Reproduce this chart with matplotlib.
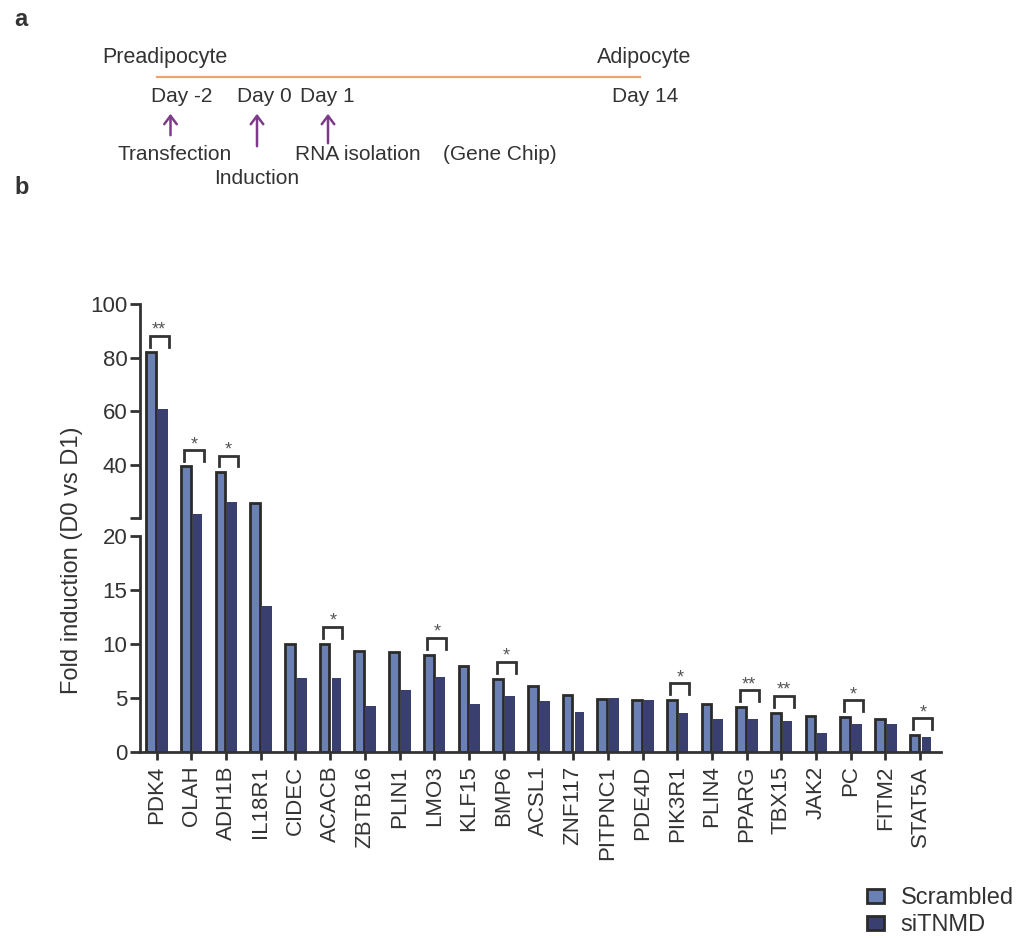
import numpy as np
import matplotlib
matplotlib.use('Agg')
import matplotlib.pyplot as plt
from matplotlib.patches import Patch, FancyArrowPatch
from matplotlib.lines import Line2D

plt.rcParams['font.family'] = ['Liberation Sans', 'DejaVu Sans']
plt.rcParams['text.color'] = '#333333'
plt.rcParams['axes.labelcolor'] = '#333333'
plt.rcParams['xtick.color'] = '#333333'
plt.rcParams['ytick.color'] = '#333333'

# data
genes = ['PDK4', 'OLAH', 'ADH1B', 'IL18R1', 'CIDEC', 'ACACB', 'ZBTB16', 'PLIN1',
         'LMO3', 'KLF15', 'BMP6', 'ACSL1', 'ZNF117', 'PITPNC1', 'PDE4D', 'PIK3R1',
         'PLIN4', 'PPARG', 'TBX15', 'JAK2', 'PC', 'FITM2', 'STAT5A']
scrambled = [82.2, 39.4, 37.4, 25.8, 10.0, 10.0, 9.35, 9.25, 9.0, 7.9, 6.75, 6.1,
             5.25, 4.9, 4.8, 4.8, 4.4, 4.15, 3.6, 3.3, 3.2, 3.05, 1.55]
sitnmd = [60.9, 21.7, 26.2, 13.5, 6.8, 6.8, 4.2, 5.7, 6.95, 4.45, 5.2, 4.7,
          3.7, 4.95, 4.8, 3.6, 3.0, 3.0, 2.85, 1.75, 2.6, 2.6, 1.4]
sig_genes = ['PDK4', 'OLAH', 'ADH1B', 'ACACB', 'LMO3', 'BMP6', 'PIK3R1', 'PPARG',
             'TBX15', 'PC', 'STAT5A']
sig_marks = ['**', '*', '*', '*', '*', '*', '*', '**', '**', '*', '*']

timeline_days = ['Day -2', 'Day 0', 'Day 1', 'Day 14']

W, H = 1018, 938
C_SCR = '#6b80b4'
C_SI = '#393f6e'
C_EDGE = '#2b2b2b'
C_AX = '#333333'


def fx(px):
    return px / W


def fy(py):
    return 1 - py / H


fig = plt.figure(figsize=(W / 100, H / 100), dpi=100)

# ---- panel a: timeline ----
fig.text(fx(14), fy(19), 'a', fontsize=17, fontweight='bold', va='center', ha='left')
fig.text(fx(14), fy(188), 'b', fontsize=17, fontweight='bold', va='center', ha='left')

fig.add_artist(Line2D([fx(157), fx(640)], [fy(77.5), fy(77.5)], color='#f2a272', lw=1.6))
fig.text(fx(102), fy(58), 'Preadipocyte', fontsize=15.5, va='center', ha='left')
fig.text(fx(691), fy(58), 'Adipocyte', fontsize=15.5, va='center', ha='right')

day_x = [151, 237, 300, 612]
for d, xp in zip(timeline_days, day_x):
    fig.text(fx(xp), fy(97), d, fontsize=15, va='center', ha='left')

for xp, tail in [(170.5, 138), (257, 149), (328, 146)]:
    fig.add_artist(FancyArrowPatch((fx(xp), fy(tail)), (fx(xp), fy(111)),
                                   transform=fig.transFigure, arrowstyle='->,head_length=4,head_width=3',
                                   color='#7d3a88', lw=1.8, mutation_scale=1.5))

fig.text(fx(117), fy(155), 'Transfection', fontsize=15, va='center', ha='left')
fig.text(fx(214), fy(179), 'Induction', fontsize=15, va='center', ha='left')
fig.text(fx(295), fy(155), 'RNA isolation', fontsize=15, va='center', ha='left')
fig.text(fx(443), fy(155), '(Gene Chip)', fontsize=15, va='center', ha='left')

# ---- panel b: broken bar chart ----
left, right = fx(140), fx(941)
ax_top = fig.add_axes([left, fy(518.3), right - left, fy(304.3) - fy(518.3)])
ax_bot = fig.add_axes([left, fy(751.7), right - left, fy(536) - fy(751.7)])

x = np.arange(len(genes))
scr = np.array(scrambled)
si = np.array(sitnmd)
bw = 0.28
o1, o2 = -0.16, 0.18

big_s = scr > 20
big_i = si > 20
ax_top.bar(x[big_s] + o1, scr[big_s], bw, color=C_SCR, edgecolor=C_EDGE, lw=2, clip_on=False)
ax_top.bar(x[big_i] + o2, si[big_i], bw, color=C_SI, lw=0, clip_on=False)
ax_bot.bar(x + o1, scr, bw, color=C_SCR, edgecolor=C_EDGE, lw=2)
ax_bot.bar(x + o2, si, bw, color=C_SI, lw=0)

xlim = (-0.48, 22.6)
ax_top.set_xlim(*xlim)
ax_bot.set_xlim(*xlim)
ax_top.set_ylim(20, 100)
ax_bot.set_ylim(0, 20)
ax_top.patch.set_visible(False)

for ax in (ax_top, ax_bot):
    for s in ['top', 'right']:
        ax.spines[s].set_visible(False)
    ax.spines['left'].set_linewidth(2)
    ax.spines['left'].set_color(C_AX)
    ax.tick_params(axis='y', length=7, width=2, labelsize=16, pad=2)
ax_top.spines['bottom'].set_visible(False)
ax_bot.spines['bottom'].set_linewidth(2)
ax_bot.spines['bottom'].set_color(C_AX)

ax_top.set_yticks([20, 40, 60, 80, 100])
ax_top.set_yticklabels(['', '40', '60', '80', '100'])
ax_top.set_xticks([])
ax_bot.set_yticks([0, 5, 10, 15, 20])
ax_bot.set_xticks(x)
ax_bot.set_xticklabels(genes, rotation=90, fontsize=16)
ax_bot.tick_params(axis='x', length=6, width=2, pad=4)

fig.text(fx(72), fy(560), 'Fold induction (D0 vs D1)', fontsize=17, rotation=90,
         va='center', ha='center')

# significance brackets
for g, m in zip(sig_genes, sig_marks):
    i = genes.index(g)
    top = max(scr[i], si[i])
    if top > 20:
        ax, gap, leg = ax_top, 6.0, 4.0
    else:
        ax, gap, leg = ax_bot, 1.55, 1.0
    yb = top + gap
    x0, x1 = i - 0.2, i + 0.35
    ax.plot([x0, x0, x1, x1], [yb - leg, yb, yb, yb - leg], color=C_AX, lw=2,
            clip_on=False, solid_joinstyle='miter')
    ax.annotate(m, ((x0 + x1) / 2, yb), xytext=(0, -2), textcoords='offset points',
                ha='center', va='bottom', fontsize=13, color='#555555',
                annotation_clip=False)

handles = [Patch(facecolor=C_SCR, edgecolor=C_EDGE, lw=2, label='Scrambled'),
           Patch(facecolor=C_SI, edgecolor=C_EDGE, lw=2, label='siTNMD')]
fig.legend(handles=handles, loc='upper left', bbox_to_anchor=(fx(858), fy(878)),
           frameon=False, fontsize=17, handlelength=0.7, handleheight=0.55,
           handletextpad=0.7, labelspacing=0.2, borderaxespad=0)

fig.savefig('out.png', dpi=100)
